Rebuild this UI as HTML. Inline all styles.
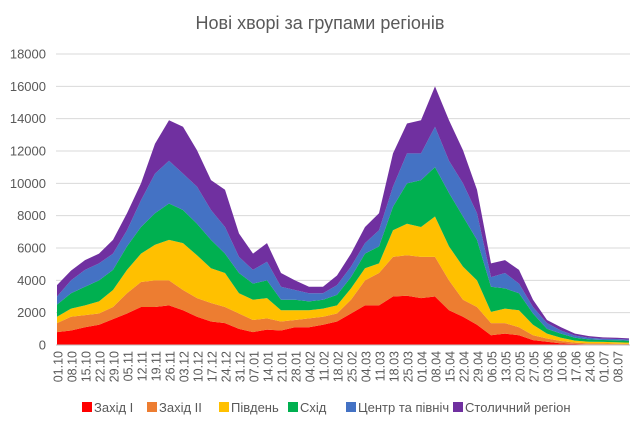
<!DOCTYPE html>
<html><head><meta charset="utf-8">
<style>
html,body{margin:0;padding:0;background:#fff;}
body{width:640px;height:429px;overflow:hidden;font-family:"Liberation Sans",sans-serif;}
svg text{font-family:"Liberation Sans",sans-serif;}
</style></head>
<body>
<svg id="chart" width="640" height="429" viewBox="0 0 640 429" xmlns="http://www.w3.org/2000/svg">
<text x="320" y="29" text-anchor="middle" font-size="18" fill="#595959">Нові хворі за групами регіонів</text>
<g id="grid"></g>
<g id="areas"></g>
<g id="yaxis"></g>
<g id="xaxis"></g>
<g id="legend"></g>
</svg>
<script>
const dates = ["01.10","08.10","15.10","22.10","29.10","05.11","12.11","19.11","26.11","03.12","10.12","17.12","24.12","31.12","07.01","14.01","21.01","28.01","04.02","11.02","18.02","25.02","04.03","11.03","18.03","25.03","01.04","08.04","15.04","22.04","29.04","06.05","13.05","20.05","27.05","03.06","10.06","17.06","24.06","01.07","08.07","14.07"];
const seriesNames = ["Захід I","Захід II","Південь","Схід","Центр та північ","Столичний регіон"];
const zakhid1 = [800,900,1100,1250,1600,1950,2350,2350,2450,2150,1750,1450,1350,1000,800,950,900,1100,1100,1250,1450,1950,2450,2450,3000,3050,2900,3000,2150,1750,1250,600,700,600,300,200,100,60,40,40,40,30];
const zakhid2 = [550,850,750,700,750,1250,1550,1650,1550,1250,1150,1150,1000,950,750,700,550,450,550,500,500,850,1550,2000,2450,2500,2550,2450,1850,1050,1100,750,650,500,300,200,150,90,60,60,40,40];
const pivden = [400,500,600,750,1050,1450,1750,2200,2500,2900,2650,2150,2100,1250,1250,1250,700,600,500,500,500,700,750,600,1650,1950,1850,2500,2100,2050,1650,700,900,1050,650,300,200,120,100,90,90,80];
const skhid = [750,950,1150,1300,1250,1450,1650,1950,2250,2050,1950,1750,1200,1250,1000,1100,650,650,550,550,650,700,900,1050,1450,2500,2900,3050,3300,3100,2500,1550,1250,1050,700,300,250,180,150,120,120,110];
const tsentr = [500,800,1050,1050,1000,1000,1650,2450,2650,2250,2300,1850,1650,1000,850,1150,800,600,500,400,600,650,650,1000,1250,1850,1650,2500,2000,2050,1650,600,950,600,400,350,200,130,100,80,80,70];
const stolychnyi = [700,600,600,600,850,1050,1050,1850,2500,2900,2250,1850,2300,1450,1000,1150,850,600,400,400,600,800,1000,1050,2050,1850,2050,2500,2500,2050,1450,850,800,850,450,200,200,120,100,80,80,80];
const yTicks = [0,2000,4000,6000,8000,10000,12000,14000,16000,18000];
const colors = ["#FF0000","#ED7D31","#FFC000","#00B050","#4472C4","#7030A0"];
const allSeries = [zakhid1,zakhid2,pivden,skhid,tsentr,stolychnyi];

const NS="http://www.w3.org/2000/svg";
const L=56, R=630, T=54, B=345, YMAX=18000, NDAYS=287;
function dayOf(s){const d=+s.slice(0,2),m=+s.slice(3,5);const start={10:0,11:31,12:61,1:92,2:123,3:151,4:182,5:212,6:243,7:273};return start[m]+d-1;}
function xs(day){return L+(day+0.5)*(R-L)/NDAYS;}
function ys(v){return B-(v/YMAX)*(B-T);}
function mk(tag,attrs,parent){const e=document.createElementNS(NS,tag);for(const k in attrs)e.setAttribute(k,attrs[k]);parent.appendChild(e);return e;}

const grid=document.getElementById('grid'), yaxis=document.getElementById('yaxis');
yTicks.forEach(t=>{
  if(t>0){const g=mk('line',{x1:L,x2:R,y1:ys(t),y2:ys(t),stroke:'#D9D9D9','stroke-width':1},grid);
  
  }
  const tx=mk('text',{x:46,y:ys(t)+4.5,'text-anchor':'end','font-size':13,fill:'#595959'},yaxis);
  tx.textContent=t;
  
  
});

const areas=document.getElementById('areas');
const xsPts=dates.map(d=>xs(dayOf(d)));
let base=dates.map(()=>0);
allSeries.forEach((s,si)=>{
  const top=base.map((b,i)=>b+s[i]);
  let d='M'+xsPts[0]+','+ys(top[0]);
  for(let i=1;i<top.length;i++)d+=' L'+xsPts[i]+','+ys(top[i]);
  for(let i=top.length-1;i>=0;i--)d+=' L'+xsPts[i]+','+ys(base[i]);
  d+=' Z';
  const p=mk('path',{d:d,fill:colors[si]},areas);
  
  
  base=top;
});

const xaxis=document.getElementById('xaxis');
const ax=mk('line',{x1:L,x2:R,y1:B,y2:B,stroke:'#BFBFBF','stroke-width':1},xaxis);


dates.slice(0,41).forEach(dt=>{
  const x=xs(dayOf(dt));
  const tx=mk('text',{x:0,y:0,'text-anchor':'end','font-size':12.5,fill:'#595959',transform:'translate('+(x+5.5)+','+(B+6)+') rotate(-90)'},xaxis);
  tx.textContent=dt;
  
  
});

const legend=document.getElementById('legend');
const widths=[65,72,69,58,107,0];
let lx=82;
seriesNames.forEach((n,i)=>{
  const r=mk('rect',{x:lx,y:402,width:10,height:10,fill:colors[i]},legend);
  
  
  const t=mk('text',{x:lx+12,y:412,'font-size':13,fill:'#595959'},legend);
  t.textContent=n;
  
  
  lx+=widths[i];
});
</script>
</body></html>
